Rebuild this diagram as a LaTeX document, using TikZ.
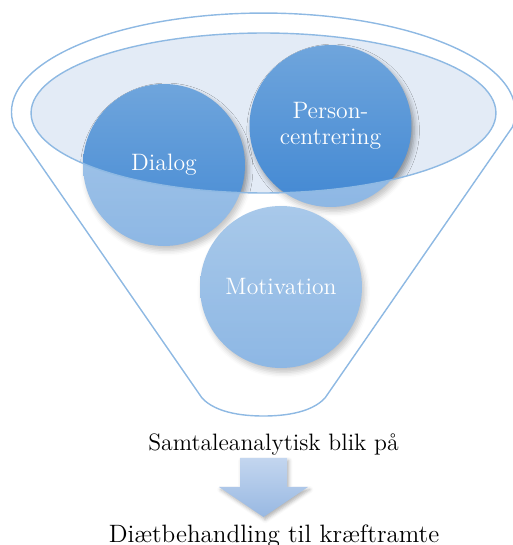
\documentclass[tikz,border=0pt]{standalone}
\usepackage{tikz}
\usetikzlibrary{shadows.blur,positioning}
\definecolor{rimline}{HTML}{8EB9E3}
\definecolor{rimfill}{HTML}{E3EBF6}
\definecolor{bubbletop}{HTML}{6FA5DC}
\definecolor{bubblebottom}{HTML}{4288D3}
\definecolor{arrowtop}{HTML}{C3D6EF}
\definecolor{arrowbottom}{HTML}{98B8E2}
\newcommand{\bubblesize}{3.24cm}
\newcommand{\funnelpath}{(14.4,418) arc[start angle=188.7, end angle=-8.7, x radius=5.04cm, y radius=1.98cm]
    -- (325,147) .. controls (312,133) and (287,129) .. (263.5,129)
    .. controls (240,129) and (215,133) .. (202,147) -- cycle}
\tikzset{
    bubble/.style = { circle, align=center,
        minimum size = \bubblesize,
        inner sep = 0pt,
        text = white,
        font = \fontsize{13.5}{14.8}\selectfont,
        top color = bubbletop, bottom color = bubblebottom,
        blur shadow = {shadow xshift=1.5pt, shadow yshift=-2.5pt,
            shadow blur radius=3pt, shadow opacity=40}
    },
    caption/.style = { anchor = base, inner sep = 0pt,
        font = \fontsize{13.5}{16}\selectfont
    },
    rim/.style = { draw = rimline, line width = 0.8pt },
    veil/.style = { fill = white, fill opacity = 0.4, even odd rule },
    blockarrow/.style = { top color = arrowtop, bottom color = arrowbottom,
        blur shadow = {shadow xshift=1pt, shadow yshift=-1.5pt,
            shadow blur radius=2pt, shadow opacity=30}
    }
}

\begin{document}
\begin{tikzpicture}[x=0.02cm, y=0.02cm]
    \useasboundingbox (0,0) rectangle (512,545);

    % funnel mouth...
    \fill[rimfill] (263.5,432) ellipse [x radius=4.65cm, y radius=1.6cm];

    % bubbles...
    \node[bubble] (dialog) at (164,380) {Dialog};
    \node[bubble] (person) at (330.5,419) {Person-\\centrering};
    \node[bubble] (motivation) at (281,258) {Motivation};

    % funnel body over the bubbles...
    \path[veil] \funnelpath (263.5,432) ellipse [x radius=4.65cm, y radius=1.6cm];
    \draw[rim] \funnelpath;
    \draw[rim] (263.5,432) ellipse [x radius=4.65cm, y radius=1.6cm];

    % captions...
    \node[caption] (upper) at (273.5,94) {Samtaleanalytisk blik på};
    \node[caption, font=\fontsize{14.3}{16}\selectfont] (lower) at (274,3) {Diætbehandling til kræftramte};

    % arrow between captions...
    \path[blockarrow] (240,87) -- (287,87) -- (287,58) -- (308,58) -- (263.5,28)
        -- (219,58) -- (240,58) -- cycle;
\end{tikzpicture}
\end{document}
